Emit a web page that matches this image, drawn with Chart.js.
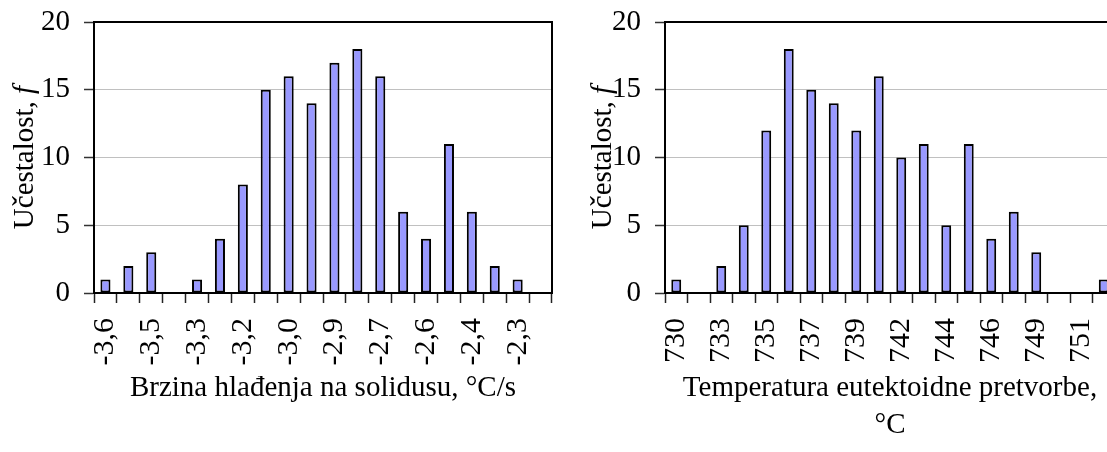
<!DOCTYPE html>
<html>
<head>
<meta charset="utf-8">
<script src="https://cdn.jsdelivr.net/npm/chart.js@4/dist/chart.umd.min.js"></script>
<style>
html, body { margin: 0; padding: 0; overflow: hidden; background: #fff; width: 1107px; height: 452px; }
canvas { position: absolute; top: 0; }
#left { left: 0; }
#right { left: 570px; }
</style>
</head>
<body>
<canvas id="left" width="570" height="452"></canvas>
<canvas id="right" width="560" height="452"></canvas>
<script>
// lijevi graf - brzina hlađenja na solidusu
var coolTicks = ['-3,6', '', '-3,5', '', '-3,3', '', '-3,2', '', '-3,0', '', '-2,9', '', '-2,7', '', '-2,6', '', '-2,4', '', '-2,3', ''];
var coolFreq = [1, 2, 3, 0, 1, 4, 8, 15, 16, 14, 17, 18, 16, 6, 4, 11, 6, 2, 1, 0];

// desni graf - temperatura eutektoidne pretvorbe
var tempTicks = ['730', '', '733', '', '735', '', '737', '', '739', '', '742', '', '744', '', '746', '', '749', '', '751', ''];
var tempFreq = [1, 0, 2, 5, 12, 18, 15, 14, 12, 16, 10, 11, 5, 11, 4, 6, 3, 0, 0, 1];

var yMin = 0, yMax = 20, yStep = 5;

Chart.defaults.font.family = "'Liberation Serif', 'Times New Roman', serif";
Chart.defaults.font.size = 29;
Chart.defaults.color = '#000';

// okvir oko područja grafa
var framePlugin = {
    id: 'frame',
    afterDatasetsDraw: function (chart) {
        var a = chart.chartArea, ctx = chart.ctx;
        ctx.save();
        ctx.strokeStyle = '#000';
        ctx.lineWidth = 2;
        ctx.strokeRect(a.left, a.top, a.right - a.left, a.bottom - a.top);
        ctx.restore();
    }
};

// naslov y osi s kurzivnim f
var yTitlePlugin = {
    id: 'yTitle',
    afterDraw: function (chart, args, opts) {
        var a = chart.chartArea, ctx = chart.ctx;
        var fam = Chart.defaults.font.family;
        ctx.save();
        ctx.translate(a.left - opts.gap, (a.top + a.bottom) / 2);
        ctx.rotate(-Math.PI / 2);
        ctx.fillStyle = '#000';
        ctx.textBaseline = 'alphabetic';
        ctx.textAlign = 'left';
        ctx.font = '29px ' + fam;
        var wa = ctx.measureText(opts.text).width;
        ctx.font = 'italic 29px ' + fam;
        var wb = ctx.measureText(opts.italic).width;
        var x = -(wa + wb) / 2;
        ctx.font = '29px ' + fam;
        ctx.fillText(opts.text, x, 0);
        ctx.font = 'italic 29px ' + fam;
        ctx.fillText(opts.italic, x + wa, 0);
        ctx.restore();
    }
};

// bez dodatnog razmaka od oznaka, da područje grafa bude tocno
function noPad(scale) {
    scale.paddingTop = 0;
    scale.paddingBottom = 0;
    scale.paddingLeft = 0;
    scale.paddingRight = 0;
}

function makeChart(id, labels, values, xTitle, titlePad, yWidth, padRight, yGap) {
    var ctx = document.getElementById(id).getContext('2d');
    return new Chart(ctx, {
        type: 'bar',
        data: {
            labels: labels,
            datasets: [{
                data: values,
                backgroundColor: '#9999ff',
                borderColor: '#000',
                borderWidth: 2,
                borderSkipped: false,
                barPercentage: 0.44,
                categoryPercentage: 1.0
            }]
        },
        options: {
            responsive: false,
            animation: false,
            events: [],
            layout: { padding: { top: 22, right: padRight, bottom: 0, left: 0 } },
            plugins: {
                legend: { display: false },
                tooltip: { enabled: false },
                yTitle: { text: 'Učestalost, ', italic: 'f', gap: yGap }
            },
            scales: {
                x: {
                    offset: true,
                    afterFit: function (scale) { scale.height = 159; noPad(scale); },
                    border: { color: '#000', width: 2 },
                    grid: {
                        offset: true,
                        drawOnChartArea: false,
                        drawTicks: true,
                        tickLength: 10,
                        tickColor: '#222',
                        tickWidth: 1.5
                    },
                    ticks: {
                        autoSkip: false,
                        minRotation: 90,
                        maxRotation: 90,
                        padding: 15,
                        font: { size: 30 }
                    },
                    title: {
                        display: true,
                        text: xTitle,
                        font: { size: 29, lineHeight: 1.27 },
                        padding: { top: 0, bottom: titlePad }
                    }
                },
                y: {
                    min: yMin,
                    max: yMax,
                    afterFit: function (scale) { scale.width = yWidth; noPad(scale); },
                    border: { color: '#000', width: 2 },
                    grid: {
                        color: '#c0c0c0',
                        lineWidth: 1,
                        tickLength: 10,
                        tickColor: '#333',
                        tickWidth: 1.5
                    },
                    ticks: { stepSize: yStep, padding: 14 }
                }
            }
        },
        plugins: [framePlugin, yTitlePlugin]
    });
}

makeChart('left', coolTicks, coolFreq, 'Brzina hlađenja na solidusu, °C/s', 45.5, 94, 18, 61);
makeChart('right', tempTicks, tempFreq, ['Temperatura eutektoidne pretvorbe,', '°C'], 8.5, 95, 15, 54);
</script>
</body>
</html>
